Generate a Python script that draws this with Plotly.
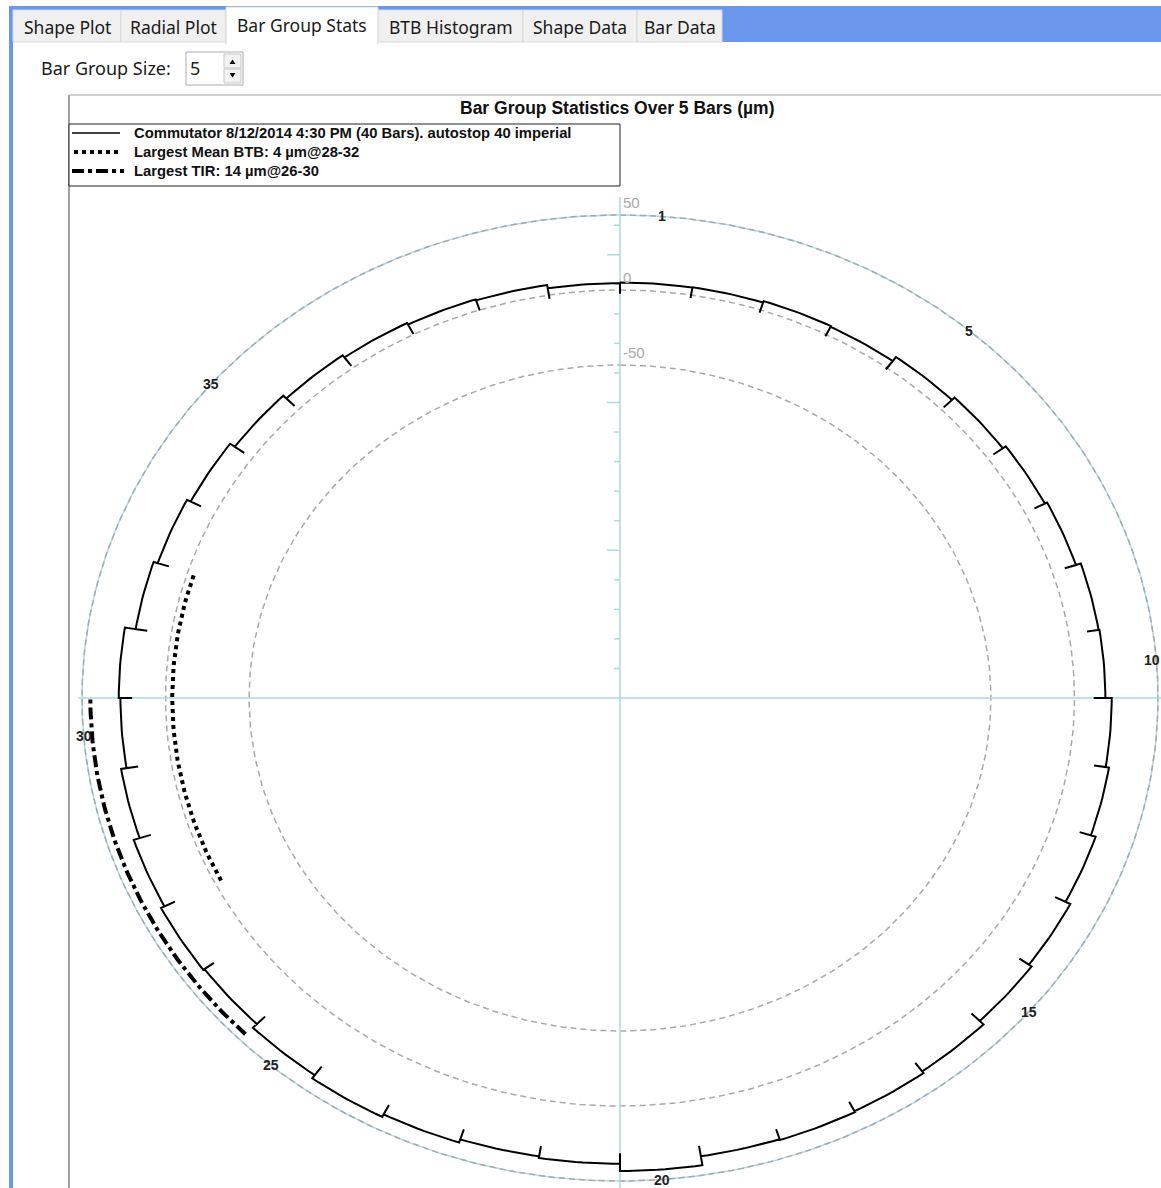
import numpy as np
import plotly.graph_objects as go

# ---------------- data ----------------
bar_numbers = list(range(1, 41))
bar_values = [5.0, 5.2, 6.2, 5.7, 9.0, 11.2, 13.4, 14.9, 18.0, 18.5,
              22.3, 24.3, 27.3, 30.5, 32.5, 35.7, 37.1, 37.8, 37.3, 43.3,
              38.5, 37.4, 39.6, 41.4, 38.8, 35.4, 36.3, 34.0, 30.3, 27.0,
              28.0, 21.5, 18.9, 16.4, 13.0, 10.4, 8.6, 7.4, 6.7, 4.5]
ring_values = [50, 0, -50]
ring_labels = ["50", "0", "-50"]
labelled_bars = [1, 5, 10, 15, 20, 25, 30, 35]
btb_group = [28, 32]
btb_mean = 4
btb_radius = -4
tir_group = [26, 30]
tir_value = 14
tir_radius = 45
group_size = 5
tabs = ["Shape Plot", "Radial Plot", "Bar Group Stats", "BTB Histogram", "Shape Data", "Bar Data"]
selected_tab = "Bar Group Stats"
title_text = "Bar Group Statistics Over %d Bars (µm)" % group_size
legend_texts = ["Commutator 8/12/2014 4:30 PM (40 Bars). autostop 40 imperial",
                "Largest Mean BTB: %d µm@%d-%d" % (btb_mean, btb_group[0], btb_group[1]),
                "Largest TIR: %d µm@%d-%d" % (tir_value, tir_group[0], tir_group[1])]

# ---------------- geometry / style ----------------
W, H = 1161, 1188
CX, CY, RX, RY = 620, 698, 538, 483
R_MIN, R_MAX = -272, 50
N = len(bar_values)
STEP = 360 / N
TICK = 7
AXIS_TICK = 19.7
LIGHTBLUE = "#ADD8E6"
DGRAY = "#A9A9A9"
BLUE = "#6A96EC"
ARIAL = "Liberation Sans, Arial, sans-serif"
UI = "Noto Sans, Segoe UI, sans-serif"


def rn(v):
    return (v - R_MIN) / (R_MAX - R_MIN)


def pol(v, deg):
    t = np.radians(deg)
    r = rn(v)
    return r * np.sin(t), r * np.cos(t)


def arc(v, a0, a1, n=60):
    ang = np.linspace(a0, a1, n)
    xs, ys = pol(v, ang)
    return list(xs), list(ys)


fig = go.Figure()

# rings
for v in ring_values:
    xs, ys = arc(v, 0, 360, 361)
    if v == R_MAX:
        fig.add_trace(go.Scatter(x=xs, y=ys, mode="lines",
                                 line=dict(color=LIGHTBLUE, width=1.5), hoverinfo="skip"))
    fig.add_trace(go.Scatter(x=xs, y=ys, mode="lines",
                             line=dict(color=DGRAY, width=1.5, dash="6px,4px"), hoverinfo="skip"))

# axes lines
x_left = (78 - CX) / RX
x_right = (W - CX) / RX
y_top = (CY - 197) / RY
y_bot = (CY - H) / RY
fig.add_trace(go.Scatter(x=[0, 0], y=[y_bot, y_top], mode="lines",
                         line=dict(color=LIGHTBLUE, width=1.5), hoverinfo="skip"))
fig.add_trace(go.Scatter(x=[x_left, x_right], y=[0, 0], mode="lines",
                         line=dict(color=LIGHTBLUE, width=1.5), hoverinfo="skip"))
# radial axis ticks
tx, ty = [], []
for k in range(1, 17):
    yv = rn(R_MIN + k * AXIS_TICK)
    ln = 13 if k % 5 == 0 else 6
    tx += [-ln / RX, 0, None]
    ty += [yv, yv, None]
fig.add_trace(go.Scatter(x=tx, y=ty, mode="lines",
                         line=dict(color=LIGHTBLUE, width=1.5), hoverinfo="skip"))

# data line (stepped per bar with boundary ticks)
dx, dy = [], []
for i, v in enumerate(bar_values):
    a0, a1 = i * STEP, (i + 1) * STEP
    xs, ys = arc(v, a0, a1, 12)
    dx += xs
    dy += ys
    vn = bar_values[(i + 1) % N]
    low = min(v, vn) - TICK
    for vv in (low, vn):
        px_, py_ = pol(vv, a1)
        dx.append(px_)
        dy.append(py_)
fig.add_trace(go.Scatter(x=dx, y=dy, mode="lines",
                         line=dict(color="black", width=2), hoverinfo="skip"))

# largest mean BTB (dotted)
xs, ys = arc(btb_radius, (btb_group[0] - 1) * STEP, btb_group[1] * STEP, 80)
fig.add_trace(go.Scatter(x=xs, y=ys, mode="lines",
                         line=dict(color="black", width=4, dash="dot"), hoverinfo="skip"))
# largest TIR (dash-dot)
xs, ys = arc(tir_radius, (tir_group[0] - 1) * STEP, tir_group[1] * STEP, 80)
fig.add_trace(go.Scatter(x=xs, y=ys, mode="lines",
                         line=dict(color="black", width=4, dash="dashdot"), hoverinfo="skip"))

annotations = []
# ring labels
for v, lab in zip(ring_values, ring_labels):
    annotations.append(dict(x=0, y=rn(v), xref="x", yref="y", text=lab, showarrow=False,
                            xanchor="left", yanchor="bottom", xshift=1, yshift=2,
                            font=dict(family=ARIAL, size=15, color=DGRAY)))
# bar labels
x_max = (W - CX) / RX
for b in labelled_bars:
    lx, ly = pol(R_MAX, (b - 0.5) * STEP)
    shift = 0
    if lx * RX + 9 > (W - CX):
        shift = (W - CX) - (lx * RX + 9)
    annotations.append(dict(x=lx, y=ly, xref="x", yref="y", text="<b>%d</b>" % b, showarrow=False,
                            xanchor="center", yanchor="middle", xshift=shift,
                            font=dict(family=ARIAL, size=14, color="#222222")))


def PX(x):
    return x / W


def PY(y):
    return 1 - y / H


shapes = []


def rect(x0, y0, x1, y1, fill=None, line=None, lw=1):
    shapes.append(dict(type="rect", xref="paper", yref="paper",
                       x0=PX(x0), x1=PX(x1), y0=PY(y1), y1=PY(y0),
                       fillcolor=fill if fill else "rgba(0,0,0,0)",
                       line=dict(color=line if line else "rgba(0,0,0,0)", width=lw if line else 0),
                       layer="above"))


def hline(x0, x1, y, color, lw=1, dash="solid"):
    shapes.append(dict(type="line", xref="paper", yref="paper",
                       x0=PX(x0), x1=PX(x1), y0=PY(y), y1=PY(y),
                       line=dict(color=color, width=lw, dash=dash), layer="above"))


def vline(x, y0, y1, color, lw=1):
    shapes.append(dict(type="line", xref="paper", yref="paper",
                       x0=PX(x), x1=PX(x), y0=PY(y0), y1=PY(y1),
                       line=dict(color=color, width=lw), layer="above"))


# window chrome
rect(9, 6, 13, H, fill=BLUE)
rect(9, 6, W, 42, fill=BLUE)
tab_edges = [13, 121, 226, 378, 523, 637, 722]
for i, name in enumerate(tabs):
    x0, x1 = tab_edges[i], tab_edges[i + 1]
    if name == selected_tab:
        continue
    rect(x0, 10, x1, 42, fill="#F0F0F0", line="#D9D9D9")
    annotations.append(dict(x=PX((x0 + x1) / 2), y=PY(27), xref="paper", yref="paper", text=name,
                            showarrow=False, xanchor="center", yanchor="middle",
                            font=dict(family=UI, size=17.5, color="#1a1a1a")))
for i, name in enumerate(tabs):
    if name == selected_tab:
        x0, x1 = tab_edges[i], tab_edges[i + 1]
        rect(x0, 7, x1, 44, fill="white", line="#D9D9D9")
        rect(x0 + 1, 40, x1 - 1, 46, fill="white")
        annotations.append(dict(x=PX((x0 + x1) / 2), y=PY(25), xref="paper", yref="paper", text=name,
                                showarrow=False, xanchor="center", yanchor="middle",
                                font=dict(family=UI, size=17.5, color="#1a1a1a")))

# bar group size spinner
annotations.append(dict(x=PX(39), y=PY(68), xref="paper", yref="paper", text="Bar Group Size:",
                        showarrow=False, xanchor="left", yanchor="middle",
                        font=dict(family=UI, size=18, color="#1a1a1a")))
rect(186, 52, 243, 85, fill="white", line="#ABADB3")
rect(224, 54, 241, 68, fill="#F2F2F2", line="#C8C8C8")
rect(224, 69, 241, 83, fill="#F2F2F2", line="#C8C8C8")
annotations.append(dict(x=PX(188), y=PY(68), xref="paper", yref="paper", text=str(group_size),
                        showarrow=False, xanchor="left", yanchor="middle",
                        font=dict(family=UI, size=18, color="#1a1a1a")))
shapes.append(dict(type="path", xref="paper", yref="paper", fillcolor="black", line=dict(width=0),
                   path="M %f %f L %f %f L %f %f Z" % (PX(229.5), PY(64), PX(235.5), PY(64), PX(232.5), PY(59.5)),
                   layer="above"))
shapes.append(dict(type="path", xref="paper", yref="paper", fillcolor="black", line=dict(width=0),
                   path="M %f %f L %f %f L %f %f Z" % (PX(229.5), PY(73), PX(235.5), PY(73), PX(232.5), PY(77.5)),
                   layer="above"))

# chart frame
vline(69, 95, H, "#A0A0A0", 2)
hline(69, W, 95, "#A0A0A0", 1)

# title
annotations.append(dict(x=PX(617), y=PY(108), xref="paper", yref="paper", text="<b>%s</b>" % title_text,
                        showarrow=False, xanchor="center", yanchor="middle",
                        font=dict(family=ARIAL, size=17.5, color="#111111")))

# legend box
rect(69, 124, 620, 186, fill="white", line="#222222", lw=1)
legend_y = [133, 152, 171]
hline(72, 120, legend_y[0], "black", 1.5)
hline(74, 122, legend_y[1], "black", 4, "dot")
hline(72, 124, legend_y[2], "black", 4, "dashdot")
for yy, txt in zip(legend_y, legend_texts):
    annotations.append(dict(x=PX(132), y=PY(yy), xref="paper", yref="paper", text="<b>%s</b>" % txt,
                            showarrow=False, xanchor="left", yanchor="middle",
                            font=dict(family=ARIAL, size=14.8, color="#111111")))

fig.update_layout(
    width=W, height=H, autosize=False,
    margin=dict(l=0, r=0, t=0, b=0, pad=0),
    paper_bgcolor="white", plot_bgcolor="white",
    showlegend=False,
    xaxis=dict(range=[(0 - CX) / RX, (W - CX) / RX], visible=False, fixedrange=True, domain=[0, 1]),
    yaxis=dict(range=[(CY - H) / RY, CY / RY], visible=False, fixedrange=True, domain=[0, 1]),
    shapes=shapes, annotations=annotations,
)

fig.write_html("out.html", config={"displayModeBar": False},
               post_script="document.body.style.margin='0';document.body.style.overflow='hidden';")
